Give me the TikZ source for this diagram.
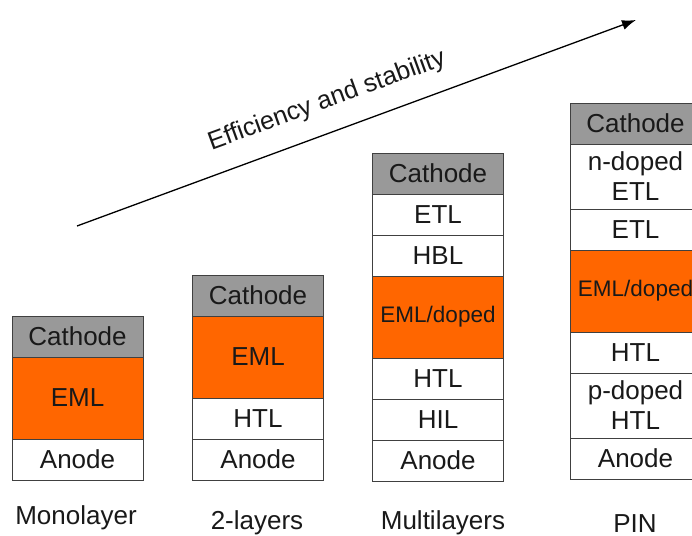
\documentclass[tikz,border=0pt]{standalone}
\usepackage{fontspec}
\setmainfont{Liberation Sans}
\usetikzlibrary{positioning,arrows.meta}
\definecolor{cathgray}{HTML}{999999}
\definecolor{emlorange}{HTML}{FF6600}
\definecolor{edgegray}{HTML}{404040}
\tikzset{
  lay/.style={draw=edgegray,line width=0.9pt,fill=white,minimum width=131pt,
    inner sep=0pt,outer sep=0pt,align=center,
    font=\fontsize{26}{30}\selectfont,text=black!90},
  cath/.style={lay,fill=cathgray,minimum height=41pt},
  thin/.style={lay,minimum height=41pt},
  twoline/.style={lay,minimum height=65pt},
  eml/.style={lay,fill=emlorange,minimum height=82pt},
  caption/.style={font=\fontsize{26}{30}\selectfont,text=black!90}
}
\begin{document}
\begin{tikzpicture}[x=1pt,y=-1pt]
\useasboundingbox[fill=white](0,0)rectangle(692,535);
\clip(0,0)rectangle(692,535);
% monolayer
\node[cath,anchor=north](c1)at(77.5,316){Cathode};
\node[eml,below=0pt of c1](e1){EML};
\node[thin,below=0pt of e1](a1){Anode};
\node[caption](l1)at(76,518){Monolayer};
% 2-layers
\node[cath,anchor=north](c2)at(258,275){Cathode};
\node[eml,below=0pt of c2](e2){EML};
\node[thin,below=0pt of e2](h2){HTL};
\node[thin,below=0pt of h2](a2){Anode};
\node[caption](l2)at(257,523){2-layers};
% multilayers
\node[cath,anchor=north](c3)at(438,153){Cathode};
\node[thin,below=0pt of c3](t3){ETL};
\node[thin,below=0pt of t3](b3){HBL};
\node[eml,below=0pt of b3,font=\fontsize{22.5}{26}\selectfont](e3){EML/doped};
\node[thin,below=0pt of e3](h3){HTL};
\node[thin,below=0pt of h3](i3){HIL};
\node[thin,below=0pt of i3](a3){Anode};
\node[caption](l3)at(443,523){Multilayers};
% PIN
\node[cath,anchor=north](c4)at(635.5,103){Cathode};
\node[twoline,below=0pt of c4](n4){n-doped\\ETL};
\node[thin,below=0pt of n4](t4){ETL};
\node[eml,below=0pt of t4,font=\fontsize{22.5}{26}\selectfont](e4){EML/doped};
\node[thin,below=0pt of e4](h4){HTL};
\node[twoline,below=0pt of h4](p4){p-doped\\HTL};
\node[thin,below=0pt of p4](a4){Anode};
\node[caption](l4)at(635,524){PIN};
% trend arrow
\coordinate(s)at(77,226);
\coordinate(f)at(636,20);
\draw[line width=1.3pt,-{Latex[length=14pt,width=10pt]}](s)--(f);
\node[caption,font=\fontsize{25.5}{28}\selectfont,rotate=20](t)at(327,101){Efficiency and stability};
\end{tikzpicture}
\end{document}
